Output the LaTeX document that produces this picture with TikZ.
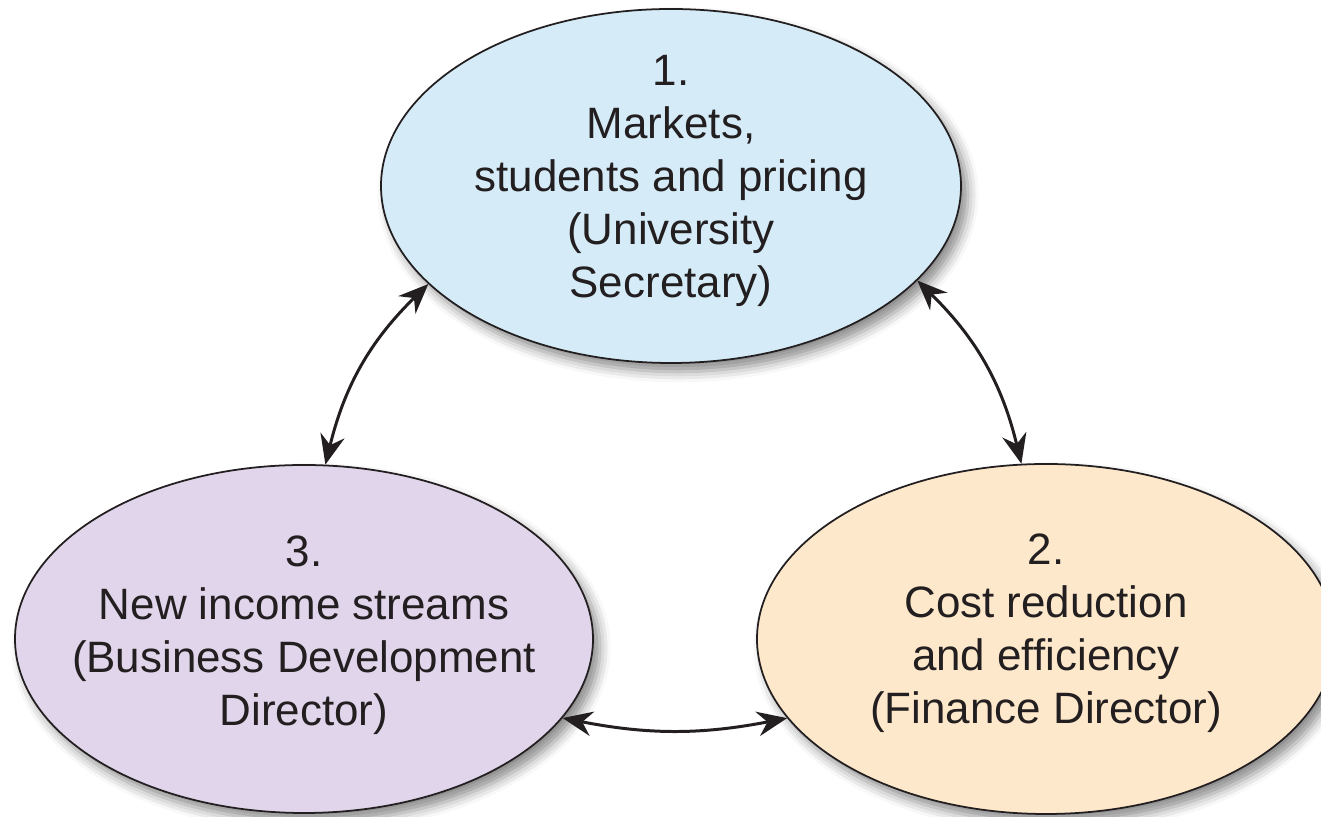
\documentclass[tikz,border=0pt]{standalone}
\usepackage{fontspec}
\setmainfont{Liberation Sans}
\usepackage{xcolor}
\usepackage{tikz}
\usetikzlibrary{shapes.geometric, arrows.meta, shadows.blur}
\definecolor{marketsblue}{RGB}{213,236,248}
\definecolor{incomepurple}{RGB}{224,213,234}
\definecolor{costorange}{RGB}{253,232,203}
\definecolor{inkgrey}{RGB}{35,31,32}

\begin{document}
\begin{tikzpicture}[
    oval/.style={ellipse, draw=inkgrey, line width=0.5pt, inner sep=0pt,
      blur shadow={shadow xshift=2pt, shadow yshift=-2.5pt, shadow blur radius=3pt, shadow opacity=45}},
    caption/.style={align=center, text=inkgrey, font=\fontsize{12.5}{15.1}\selectfont},
    link/.style={<->, >={Stealth[length=8.5pt,width=7pt,inset=2.8pt]}, line width=0.85pt, draw=inkgrey}
  ]
    \useasboundingbox (0,0) rectangle (13.21,8.17);
    \node[oval, fill=marketsblue, minimum width=5.80cm, minimum height=3.54cm] (markets) at (6.71,6.31) {};
    \node[oval, fill=incomepurple, minimum width=5.78cm, minimum height=3.48cm] (income) at (3.04,1.78) {};
    \node[oval, fill=costorange, minimum width=5.78cm, minimum height=3.50cm] (cost) at (10.46,1.78) {};
    \node[caption] (marketstext) at ([yshift=0.05cm]markets) {1.\\Markets,\\students and pricing\\(University\\Secretary)};
    \node[caption] (incometext) at ([yshift=0.04cm]income) {3.\\New income streams\\(Business Development\\Director)};
    \node[caption] (costtext) at ([yshift=0.06cm]cost) {2.\\Cost reduction\\and efficiency\\(Finance Director)};
    \draw[link] (markets.202) to[bend right=16] (income.83);
    \draw[link] (markets.339) to[bend left=16] (cost.98);
    \draw[link] (income.343) to[bend right=11] (cost.197);
\end{tikzpicture}
\end{document}
